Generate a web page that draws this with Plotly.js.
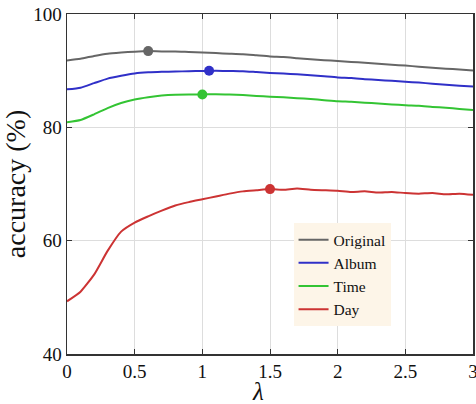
<!DOCTYPE html>
<html>
<head>
<meta charset="utf-8">
<script src="https://cdn.plot.ly/plotly-3.0.1.min.js"></script>
<style>html,body{margin:0;padding:0;background:#fff;overflow:hidden;}#chart{width:476px;height:404px;}</style>
</head>
<body>
<div id="chart"></div>
<script>
const lambdas = [0,0.1,0.2,0.3,0.4,0.5,0.6,0.7,0.8,0.9,1.0,1.1,1.2,1.3,1.4,1.5,1.6,1.7,1.8,1.9,2.0,2.1,2.2,2.3,2.4,2.5,2.6,2.7,2.8,2.9,3.0];
const original = [91.8,92.1,92.6,93.0,93.2,93.35,93.45,93.4,93.4,93.3,93.2,93.1,93.0,92.9,92.7,92.5,92.4,92.2,92.0,91.85,91.7,91.55,91.4,91.2,91.05,90.9,90.7,90.5,90.35,90.2,90.05];
const album = [86.7,87.0,87.8,88.6,89.1,89.5,89.7,89.8,89.85,89.9,89.95,90.0,89.95,89.9,89.75,89.6,89.5,89.35,89.2,89.0,88.8,88.7,88.5,88.35,88.2,88.05,87.9,87.7,87.5,87.35,87.2];
const time = [80.9,81.3,82.3,83.4,84.3,84.9,85.3,85.6,85.75,85.8,85.8,85.85,85.8,85.7,85.55,85.4,85.3,85.15,85.0,84.8,84.6,84.5,84.35,84.2,84.05,83.9,83.8,83.6,83.45,83.25,83.05];
const day = [49.3,51.0,54.0,58.2,61.6,63.2,64.3,65.3,66.2,66.8,67.3,67.8,68.3,68.7,68.9,69.1,69.0,69.2,69.0,68.9,68.8,68.6,68.7,68.5,68.6,68.4,68.3,68.4,68.2,68.3,68.1];
const seriesNames = ["Original","Album","Time","Day"];
const bestLambda = [0.6,1.05,1.0,1.5];
const bestAcc = [93.45,90.0,85.8,69.1];
const colors = ["#666666","#3030c8","#33c433","#cc3333"];
const xTicks = [0,0.5,1,1.5,2,2.5,3];
const xTickText = ["0","0.5","1","1.5","2","2.5","3"];
const yTicks = [40,60,80,100];
const xTitle = "λ";
const yTitle = "accuracy (%)";

const allSeries = [original, album, time, day];
const traces = [];
allSeries.forEach((s,i)=>{
  traces.push({x:lambdas,y:s,type:'scatter',mode:'lines',name:seriesNames[i],
    line:{color:colors[i],width:2,shape:'spline',smoothing:0.5}});
});
allSeries.forEach((s,i)=>{
  traces.push({x:[bestLambda[i]],y:[bestAcc[i]],type:'scatter',mode:'markers',showlegend:false,
    marker:{color:colors[i],size:10}});
});

const font = "Liberation Serif, DejaVu Serif, serif";
const layout = {
  width:476,height:404,
  margin:{l:67,r:3,t:14,b:50},
  paper_bgcolor:'#fff',plot_bgcolor:'#fff',
  font:{family:font,size:18,color:'#111'},
  xaxis:{range:[0,3],tickvals:xTicks,ticktext:xTickText,showgrid:true,gridcolor:'#dddddd',gridwidth:1,
    showline:true,linecolor:'#333',linewidth:1.5,mirror:'ticks',ticks:'inside',ticklen:5,tickcolor:'#333',
    zeroline:false,tickfont:{size:19},ticklabeloverflow:'allow'},
  yaxis:{range:[40,100],tickvals:yTicks,showgrid:true,gridcolor:'#dddddd',gridwidth:1,
    showline:true,linecolor:'#333',linewidth:1.5,mirror:'ticks',ticks:'inside',ticklen:5,tickcolor:'#333',
    zeroline:false,tickfont:{size:19},
    title:{text:yTitle,font:{size:28},standoff:6}},
  annotations:[{text:'<i>'+xTitle+'</i>',xref:'paper',yref:'paper',x:0.47,y:-0.066,
    xanchor:'center',yanchor:'top',showarrow:false,font:{size:25,family:font,color:'#111'}}],
  legend:{x:0.558,y:0.385,xanchor:'left',yanchor:'top',bgcolor:'#fdf5e8',borderwidth:0,
    font:{size:15.5},tracegroupgap:0,itemwidth:30},
  showlegend:true
};
Plotly.newPlot('chart',traces,layout,{staticPlot:true});
</script>
</body>
</html>
